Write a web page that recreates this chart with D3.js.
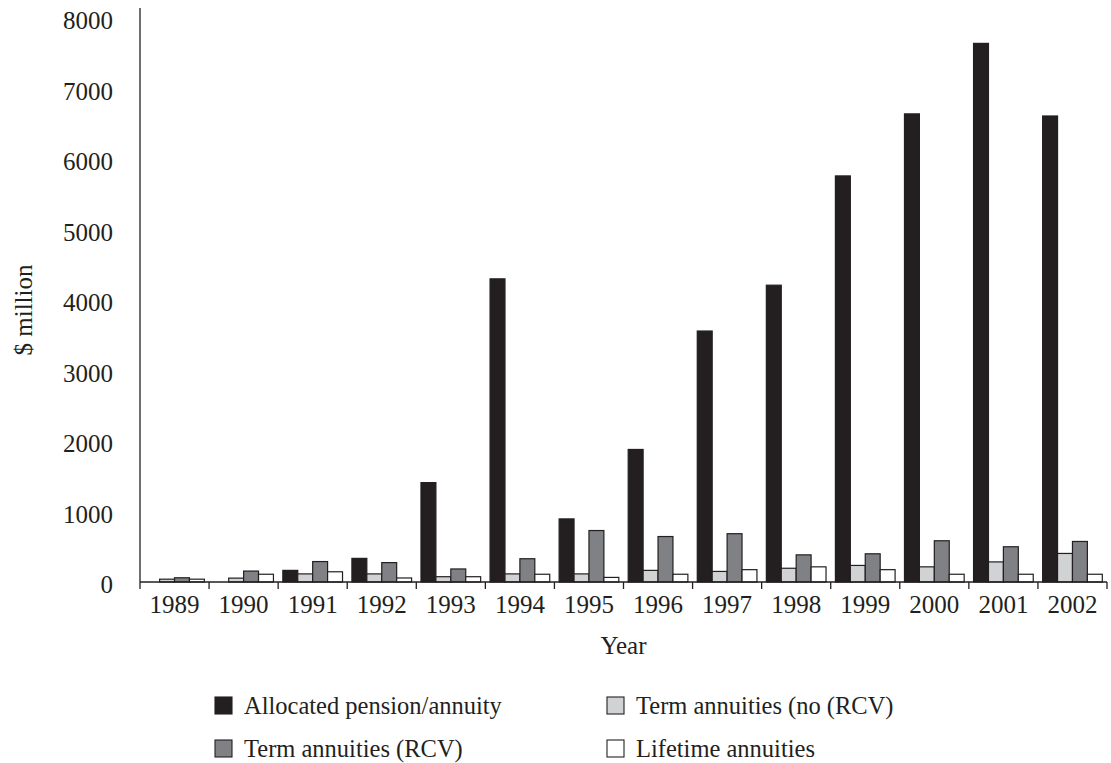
<!DOCTYPE html>
<html>
<head>
<meta charset="utf-8">
<script src="https://cdn.jsdelivr.net/npm/d3@7"></script>
<style>
  html, body { margin: 0; padding: 0; background: #fff; }
  svg { display: block; }
  text { font-family: "Liberation Serif", "DejaVu Serif", serif; fill: #231f20; }
</style>
</head>
<body>
<svg id="chart" width="1111" height="763"></svg>
<script>
// Annual sales by product type, $ million
const years = ["1989","1990","1991","1992","1993","1994","1995","1996","1997","1998","1999","2000","2001","2002"];
const seriesNames = ["Allocated pension/annuity", "Term annuities (no (RCV)", "Term annuities (RCV)", "Lifetime annuities"];
const allocated   = [0, 0, 165, 335, 1410, 4300, 895, 1880, 3560, 4210, 5760, 6640, 7640, 6610];
const termNoRCV   = [40, 55, 115, 115, 75, 115, 115, 165, 150, 195, 235, 215, 285, 405];
const termRCV     = [60, 155, 290, 275, 185, 330, 730, 645, 685, 385, 400, 585, 500, 575];
const lifetime    = [40, 110, 145, 57, 75, 110, 65, 110, 175, 215, 175, 110, 110, 110];
const yTicks = [0, 1000, 2000, 3000, 4000, 5000, 6000, 7000, 8000];

const seriesValues = [allocated, termNoRCV, termRCV, lifetime];
const fills = ["#231f20", "#d1d2d4", "#808184", "#ffffff"];

const svg = d3.select("#chart");
const plotLeft = 140, plotRight = 1107, plotTop = 18, plotBottom = 582;

const x0 = d3.scaleBand().domain(years).range([plotLeft, plotRight]);
const bw = x0.bandwidth();
const x1 = d3.scaleBand().domain(d3.range(4)).range([bw * 0.068, bw * 0.932]);
const y = d3.scaleLinear().domain([0, 8000]).range([plotBottom, plotTop]);

// bars
const groups = svg.append("g").selectAll("g")
  .data(years)
  .join("g")
  .attr("transform", d => `translate(${x0(d)},0)`);

groups.selectAll("rect")
  .data((d, i) => seriesValues.map((vals, s) => ({ s, v: vals[i] })).filter(e => e.v > 0))
  .join("rect")
  .attr("x", e => x1(e.s))
  .attr("width", x1.bandwidth())
  .attr("y", e => y(e.v))
  .attr("height", e => plotBottom - y(e.v))
  .attr("fill", e => fills[e.s])
  .attr("stroke", "#231f20")
  .attr("stroke-width", 1.2);

// y axis: plain line with labels only
svg.append("line")
  .attr("x1", plotLeft).attr("x2", plotLeft)
  .attr("y1", 8).attr("y2", plotBottom)
  .attr("stroke", "#231f20").attr("stroke-width", 1.3);

svg.append("g").selectAll("text")
  .data(yTicks)
  .join("text")
  .attr("x", 113)
  .attr("y", d => y(d) + 11)
  .attr("text-anchor", "end")
  .attr("font-size", 25)
  .text(d => d);

// x axis with ticks at category boundaries
const xAxis = d3.axisBottom(x0).tickSize(0).tickPadding(0);
const gx = svg.append("g").attr("transform", `translate(0,${plotBottom})`).call(xAxis);
gx.select(".domain").remove();
gx.selectAll("text")
  .attr("font-size", 25)
  .attr("dy", null)
  .attr("y", 31)
  .style("font-family", "'Liberation Serif', serif")
  .attr("fill", "#231f20");

svg.append("line")
  .attr("x1", plotLeft).attr("x2", plotRight)
  .attr("y1", plotBottom).attr("y2", plotBottom)
  .attr("stroke", "#231f20").attr("stroke-width", 1.3);

const boundaries = years.map(d => x0(d)).concat([plotRight]);
svg.append("g").selectAll("line")
  .data(boundaries)
  .join("line")
  .attr("x1", d => d).attr("x2", d => d)
  .attr("y1", plotBottom).attr("y2", plotBottom + 7)
  .attr("stroke", "#231f20").attr("stroke-width", 1.3);

// axis titles
svg.append("text")
  .attr("x", (plotLeft + plotRight) / 2)
  .attr("y", 654)
  .attr("text-anchor", "middle")
  .attr("font-size", 25)
  .text("Year");

svg.append("text")
  .attr("transform", "translate(32,310) rotate(-90)")
  .attr("text-anchor", "middle")
  .attr("font-size", 25)
  .text("$ million");

// legend: two columns, two rows
const legendItems = [
  { s: 0, x: 215, y: 697 },
  { s: 1, x: 607, y: 697 },
  { s: 2, x: 215, y: 740 },
  { s: 3, x: 607, y: 740 }
];
const lg = svg.append("g").selectAll("g")
  .data(legendItems)
  .join("g")
  .attr("transform", d => `translate(${d.x},${d.y})`);
lg.append("rect")
  .attr("width", 17).attr("height", 17)
  .attr("fill", d => fills[d.s])
  .attr("stroke", "#231f20").attr("stroke-width", 1.1);
lg.append("text")
  .attr("x", 29)
  .attr("y", 17)
  .attr("font-size", 24.5)
  .text(d => seriesNames[d.s]);
</script>
</body>
</html>
